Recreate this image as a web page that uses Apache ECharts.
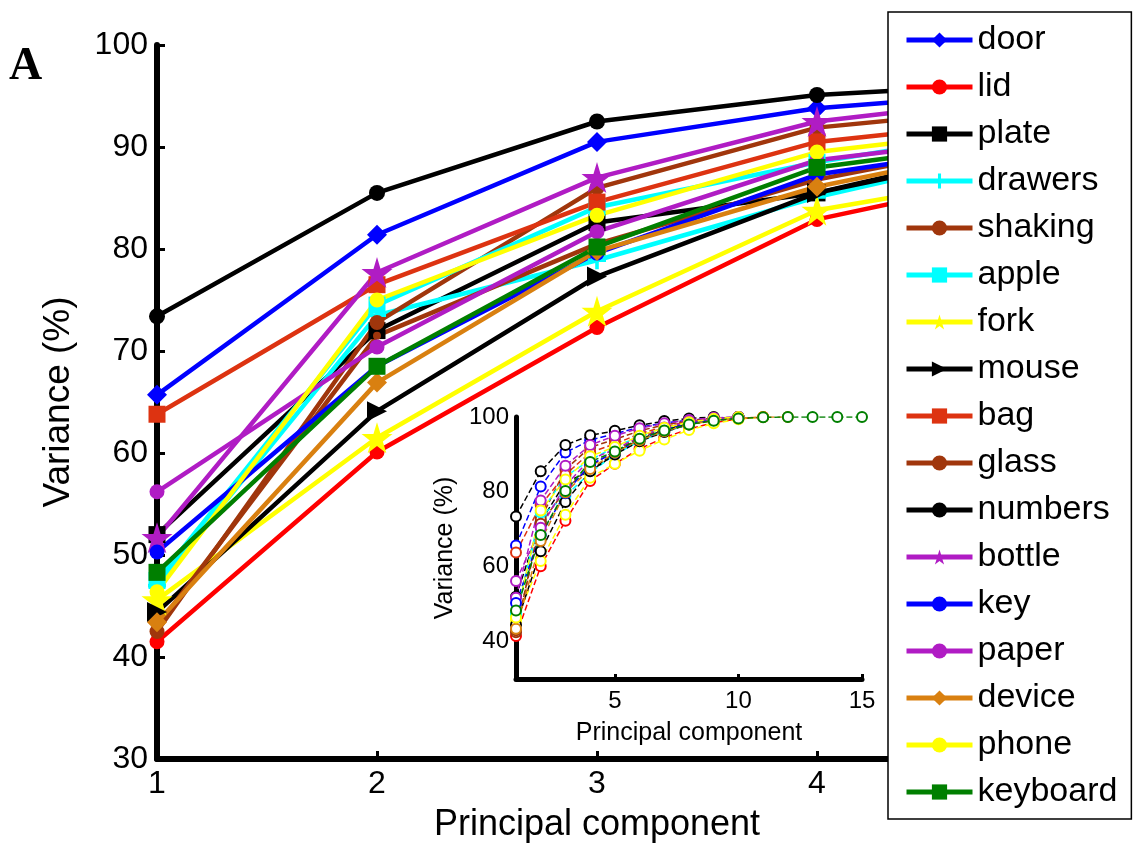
<!DOCTYPE html>
<html>
<head>
<meta charset="utf-8">
<script src="https://cdn.jsdelivr.net/npm/echarts@6/dist/echarts.min.js"></script>
<style>
html, body { margin: 0; padding: 0; background: #fff; }
#container { width: 1133px; height: 848px; }
</style>
</head>
<body>
<div id="container"></div>
<script>
// object categories, in legend order
var objects = ['door', 'lid', 'plate', 'drawers', 'shaking', 'apple', 'fork', 'mouse', 'bag',
    'glass', 'numbers', 'bottle', 'key', 'paper', 'device', 'phone', 'keyboard'];

// cumulative variance (%) per principal component
var door     = [65.7, 81.4, 90.5, 93.8, 95.5, 97.3, 98.4, 99.2, 99.6, 100];
var lid      = [41.5, 60.1, 72.3, 82.9, 87.5, 91.5, 94.5, 96.8, 98.5, 99.5, 100];
var plate    = [52.0, 72.0, 82.6, 85.5, 90.5, 94.0, 96.5, 98.3, 99.3, 100];
var drawers  = [47.0, 73.5, 78.9, 85.1, 90.0, 93.5, 96.0, 98.0, 99.2, 100];
var shaking  = [42.5, 72.8, 86.0, 91.9, 94.0, 96.3, 97.9, 99.0, 99.7, 100];
var apple    = [47.5, 74.5, 84.1, 88.5, 92.0, 94.8, 97.0, 98.5, 99.4, 100];
var fork     = [45.6, 61.5, 73.9, 83.8, 87.5, 91.0, 94.0, 96.5, 98.3, 99.4, 100];
var mouse    = [44.4, 64.1, 77.3, 85.5, 90.0, 93.5, 96.0, 98.0, 99.2, 100];
var bag      = [63.8, 76.5, 84.6, 90.5, 92.8, 95.5, 97.4, 98.8, 99.6, 100];
var glass    = [43.0, 71.5, 80.5, 86.8, 91.0, 94.5, 96.8, 98.4, 99.4, 100];
var numbers  = [73.4, 85.5, 92.5, 95.1, 96.3, 97.8, 98.9, 99.6, 100];
var bottle   = [51.7, 77.7, 87.0, 92.5, 95.0, 97.0, 98.3, 99.2, 99.8, 100];
var key      = [50.3, 68.5, 79.6, 87.3, 90.5, 94.0, 96.6, 98.3, 99.4, 100];
var paper    = [56.2, 70.4, 81.7, 88.7, 91.3, 94.8, 97.2, 98.7, 99.5, 100];
var device   = [43.4, 66.9, 79.8, 86.1, 90.5, 93.8, 96.2, 98.0, 99.1, 99.7, 100, 100];
var phone    = [46.4, 75.0, 83.3, 89.5, 92.0, 95.0, 97.1, 98.6, 99.5, 100];
var keyboard = [48.3, 68.5, 80.2, 88.0, 90.8, 94.2, 96.4, 98.0, 99.0, 99.6, 99.9, 100, 100, 100, 100];

var variance = [door, lid, plate, drawers, shaking, apple, fork, mouse, bag,
    glass, numbers, bottle, key, paper, device, phone, keyboard];

// main panel shows the first components only
var mainComponents = [1, 2, 3, 4, 5];

// styles
var starPath = 'path://M50,0 L61,35 L98,35 L68,57 L79,91 L50,70 L21,91 L32,57 L2,35 L39,35 Z';
var plusPath = 'path://M40,0 L60,0 L60,40 L100,40 L100,60 L60,60 L60,100 L40,100 L40,60 L0,60 L0,40 L40,40 Z';
var colors = ['#0000ff', '#ff0000', '#000000', '#00ffff', '#a0360c', '#00ffff', '#ffff00', '#000000', '#dd3311',
    '#a0360c', '#000000', '#b01cc4', '#0000ff', '#b01cc4', '#d98010', '#ffff00', '#007f00'];
var symbols = ['diamond', 'circle', 'rect', plusPath, 'circle', 'rect', starPath, 'triangle', 'rect',
    'circle', 'circle', starPath, 'circle', 'circle', 'diamond', 'circle', 'rect'];
var symbolSizes = [20, 15, 17, 18, 15, 17, 31, 20, 17, 8, 16, 31, 15, 15, 20, 15, 17];
var symbolRotates = [0, 0, 0, 0, 0, 0, 0, -90, 0, 0, 0, 0, 0, 0, 0, 0, 0];

var font = '"Liberation Sans", Arial, sans-serif';

var series = [];
objects.forEach(function (name, i) {
    series.push({
        type: 'line',
        name: name,
        xAxisIndex: 0,
        yAxisIndex: 0,
        data: mainComponents.map(function (pc) {
            return [pc, variance[i][pc - 1]];
        }),
        symbol: symbols[i],
        symbolSize: symbolSizes[i],
        symbolRotate: symbolRotates[i],
        showAllSymbol: true,
        lineStyle: { color: colors[i], width: 4.5 },
        itemStyle: { color: colors[i] },
        emphasis: { disabled: true }
    });
});
objects.forEach(function (name, i) {
    series.push({
        type: 'line',
        name: name + ' (inset)',
        xAxisIndex: 1,
        yAxisIndex: 1,
        data: variance[i].map(function (v, k) {
            return [k + 1, v];
        }),
        symbol: 'emptyCircle',
        symbolSize: 10,
        showAllSymbol: true,
        lineStyle: { color: colors[i], width: 1.5, type: 'dashed' },
        itemStyle: { color: colors[i], borderWidth: 2 },
        emphasis: { disabled: true }
    });
});

var dom = document.getElementById('container');
var myChart = echarts.init(dom);
var option = {
    animation: false,
    backgroundColor: '#fff',
    graphic: [{
        type: 'text',
        left: 9,
        top: 44,
        style: {
            text: 'A',
            font: 'bold 46px "Liberation Serif", "Times New Roman", serif',
            fill: '#000'
        }
    }],
    legend: {
        data: objects,
        orient: 'vertical',
        left: 888,
        top: 12,
        padding: [11, 14, 10, 16],
        itemGap: 13,
        itemWidth: 66,
        itemHeight: 19,
        backgroundColor: '#fff',
        borderColor: '#000',
        borderWidth: 1.5,
        selectedMode: false,
        lineStyle: { width: 5 },
        textStyle: {
            fontFamily: font,
            fontSize: 34,
            lineHeight: 34,
            color: '#000'
        }
    },
    grid: [
        { left: 157, top: 45, width: 880, height: 715 },
        { left: 516, top: 417, width: 346, height: 262 }
    ],
    xAxis: [{
        type: 'value',
        gridIndex: 0,
        min: 1,
        max: 5,
        interval: 1,
        name: 'Principal component',
        nameLocation: 'middle',
        nameGap: 48,
        nameTextStyle: { fontFamily: font, fontSize: 36, color: '#000' },
        axisLine: { lineStyle: { color: '#000', width: 6 } },
        axisTick: { inside: true, length: 8, lineStyle: { width: 3, color: '#000' } },
        axisLabel: { fontFamily: font, fontSize: 32, color: '#000', margin: 9 },
        splitLine: { show: false }
    }, {
        type: 'value',
        gridIndex: 1,
        min: 1,
        max: 15,
        name: 'Principal component',
        nameLocation: 'middle',
        nameGap: 42,
        nameTextStyle: { fontFamily: font, fontSize: 25, color: '#000' },
        axisLine: { lineStyle: { color: '#000', width: 5 } },
        axisTick: { inside: true, length: 5, customValues: [5, 10, 15], lineStyle: { width: 3, color: '#000' } },
        axisLabel: { fontFamily: font, fontSize: 24, color: '#000', margin: 10, customValues: [5, 10, 15] },
        splitLine: { show: false }
    }],
    yAxis: [{
        type: 'value',
        gridIndex: 0,
        min: 30,
        max: 100,
        interval: 10,
        name: 'Variance (%)',
        nameLocation: 'middle',
        nameGap: 80,
        nameTextStyle: { fontFamily: font, fontSize: 37, color: '#000' },
        axisLine: { show: true, lineStyle: { color: '#000', width: 6 } },
        axisTick: { show: true, inside: true, length: 8, lineStyle: { width: 3, color: '#000' } },
        axisLabel: { fontFamily: font, fontSize: 32, color: '#000', margin: 9 },
        splitLine: { show: false }
    }, {
        type: 'value',
        gridIndex: 1,
        min: 30,
        max: 100,
        interval: 10,
        name: 'Variance (%)',
        nameLocation: 'middle',
        nameGap: 58,
        nameTextStyle: { fontFamily: font, fontSize: 25, color: '#000' },
        axisLine: { show: true, lineStyle: { color: '#000', width: 5 } },
        axisTick: { show: false },
        axisLabel: {
            fontFamily: font, fontSize: 24, color: '#000', margin: 7,
            formatter: function (v) {
                return v % 20 === 0 ? v : '';
            }
        },
        splitLine: { show: false }
    }],
    series: series
};
myChart.setOption(option);
</script>
</body>
</html>
